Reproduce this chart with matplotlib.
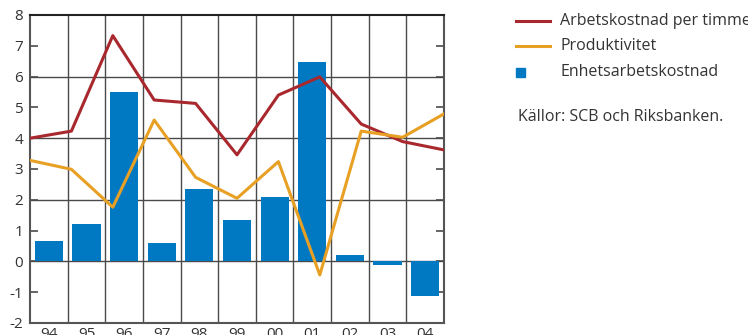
import matplotlib
matplotlib.use("Agg")
import matplotlib.pyplot as plt
from matplotlib.lines import Line2D
from matplotlib.patches import Rectangle

plt.rcParams["font.family"] = ["Open Sans", "DejaVu Sans"]
plt.rcParams["axes.unicode_minus"] = False

years = ["94", "95", "96", "97", "98", "99", "00", "01", "02", "03", "04"]
arbetskostnad = [4.0, 4.23, 7.33, 5.24, 5.13, 3.46, 5.40, 5.99, 4.46, 3.89, 3.62]
produktivitet = [3.28, 2.99, 1.76, 4.59, 2.73, 2.05, 3.24, -0.44, 4.23, 4.03, 4.79]
enhetsarbetskostnad = [0.66, 1.21, 5.50, 0.60, 2.35, 1.34, 2.09, 6.48, 0.21, -0.11, -1.12]

RED = "#a8282d"
ORANGE = "#e8a024"
BLUE = "#0079c2"
GRID = "#4a4a4a"
TEXT = "#333333"

W, H = 748, 335
fig = plt.figure(figsize=(W / 100, H / 100), dpi=100)
left, right, top, bottom = 30, 444, 15, 323
ax = fig.add_axes([left / W, 1 - bottom / H, (right - left) / W, (bottom - top) / H])

n = len(years)
ax.bar(range(n), enhetsarbetskostnad, width=0.75, color=BLUE, zorder=3)
ax.set_xlim(-0.5, n - 0.5)
ax.set_ylim(-2, 8)

# vertical grid at category boundaries, horizontal grid at even values
for b in range(1, n):
    ax.axvline(b - 0.5, color=GRID, lw=1.0, zorder=1)
for yv in (0, 2, 4, 6):
    ax.axhline(yv, color=GRID, lw=1.0, zorder=1)

ax.set_xticks(range(n))
ax.set_xticklabels(years, fontsize=11, color=TEXT)
ax.tick_params(axis="x", length=0, pad=3)
ax.set_yticks(range(-2, 9))
ax.tick_params(axis="y", direction="in", length=6, width=1.2, color=GRID,
               labelsize=11, labelcolor=TEXT, right=True, pad=5)
for s in ax.spines.values():
    s.set_color("#555555")
    s.set_linewidth(1.5)
ax.spines["top"].set_color("#222222")

# lines spread across the full width on their own x scale
lx = fig.add_axes(ax.get_position(), sharey=ax, frameon=False)
lx.set_xlim(0, n - 1)
lx.plot(range(n), arbetskostnad, color=RED, lw=2.2, zorder=4)
lx.plot(range(n), produktivitet, color=ORANGE, lw=2.2, zorder=4)
lx.axis("off")

# legend drawn in figure pixel coordinates
def fx(px):
    return px / W

def fy(py):
    return 1 - py / H

labels = ["Arbetskostnad per timme", "Produktivitet", "Enhetsarbetskostnad"]
rows = [21, 46, 72]
fig.add_artist(Line2D([fx(516), fx(550)], [fy(rows[0])] * 2, color=RED, lw=2.2))
fig.add_artist(Line2D([fx(516), fx(550)], [fy(rows[1])] * 2, color=ORANGE, lw=2.2))
fig.add_artist(Rectangle((fx(516), fy(rows[2] + 4.5)), 9 / W, 9 / H, color=BLUE))
for lab, r in zip(labels, rows):
    fig.text(fx(560), fy(r), lab, fontsize=11.5, color=TEXT, va="center", ha="left")
fig.text(fx(518), fy(117), "Källor: SCB och Riksbanken.", fontsize=11.5,
         color=TEXT, va="center", ha="left")

fig.savefig("out.png", dpi=100)
